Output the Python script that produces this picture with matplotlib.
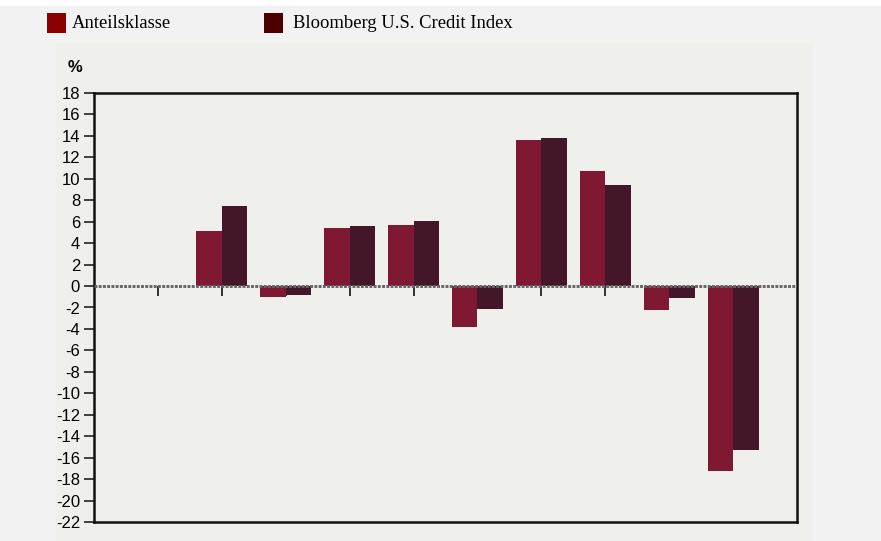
import numpy as np
import matplotlib
matplotlib.use("Agg")
import matplotlib.pyplot as plt
from matplotlib.patches import Rectangle

# Data (first slot has no values)
categories = ["", "2", "3", "4", "5", "6", "7", "8", "9", "10"]
fund = [np.nan, 5.1, -1.0, 5.4, 5.7, -3.8, 13.6, 10.7, -2.2, -17.2]
index = [np.nan, 7.5, -0.8, 5.6, 6.1, -2.1, 13.8, 9.4, -1.1, -15.3]
series_names = ["Anteilsklasse", "Bloomberg U.S. Credit Index"]
yticks = list(range(18, -23, -2))

bar_colors = ["#7e1833", "#431629"]
legend_colors = ["#8b0000", "#4d0000"]

fig = plt.figure(figsize=(8.81, 5.41), dpi=100)
fig.patch.set_facecolor("#f2f2f2")

# lighter inner panel behind the plot
fig.patches.append(Rectangle((56 / 881, 0), (813 - 56) / 881, 1 - 43 / 541,
                             transform=fig.transFigure, facecolor="#efefeb",
                             edgecolor="none", zorder=-2))
# white strip at the very top
fig.patches.append(Rectangle((0, 1 - 6 / 541), 1, 6 / 541,
                             transform=fig.transFigure, facecolor="white",
                             edgecolor="none", zorder=-2))

ax = fig.add_axes([94 / 881, 1 - 522 / 541, (797 - 94) / 881, (522 - 93) / 541])
ax.set_facecolor("#efefeb")
ax.set_zorder(1)

x = np.arange(1, len(categories) + 1)
w = 0.4
ax.bar(x - w / 2, fund, width=w, color=bar_colors[0], zorder=2)
ax.bar(x + w / 2, index, width=w, color=bar_colors[1], zorder=2)

# dotted zero line
ax.axhline(0, color="#666666", lw=2.1, linestyle=(0, (1.0, 0.45)),
           dash_capstyle="butt", zorder=3)

ax.set_xlim(0, len(categories) + 1)
ymin, ymax = -22, 18
ax.set_ylim(ymin, ymax)
ax.set_yticks(yticks)
ax.set_yticklabels([str(v) for v in yticks], family="Liberation Sans", fontsize=12)
ax.tick_params(axis="y", length=7, width=1.2, pad=3, color="#222222")

# category ticks sit on the zero line
ax.set_xticks([])
sec = ax.secondary_xaxis((0 - ymin) / (ymax - ymin))
sec.spines["bottom"].set_visible(False)
sec.spines["top"].set_visible(False)
sec.xaxis.set_ticks_position("bottom")
sec.set_xticks(x)
sec.set_xticklabels([])
sec.tick_params(axis="x", direction="out", length=7, width=1.2,
                labelbottom=False, labeltop=False, color="#111111")

for s in ax.spines.values():
    s.set_linewidth(1.8)
    s.set_color("#111111")

fig.text(68 / 881, 1 - 72 / 541, "%", family="Liberation Sans", fontsize=12,
         fontweight="bold")

# legend: coloured squares with serif labels
leg_x = [47, 264]
text_x = [72, 293]
for lx, tx, name, col in zip(leg_x, text_x, series_names, legend_colors):
    fig.patches.append(Rectangle((lx / 881, 1 - 33 / 541), 19 / 881, 20 / 541,
                                 transform=fig.transFigure, facecolor=col,
                                 edgecolor="none", zorder=1))
    fig.text(tx / 881, 1 - 24 / 541, name, family="Liberation Serif",
             fontsize=13.4, va="center")

fig.savefig("out.png", dpi=100, facecolor=fig.get_facecolor())
